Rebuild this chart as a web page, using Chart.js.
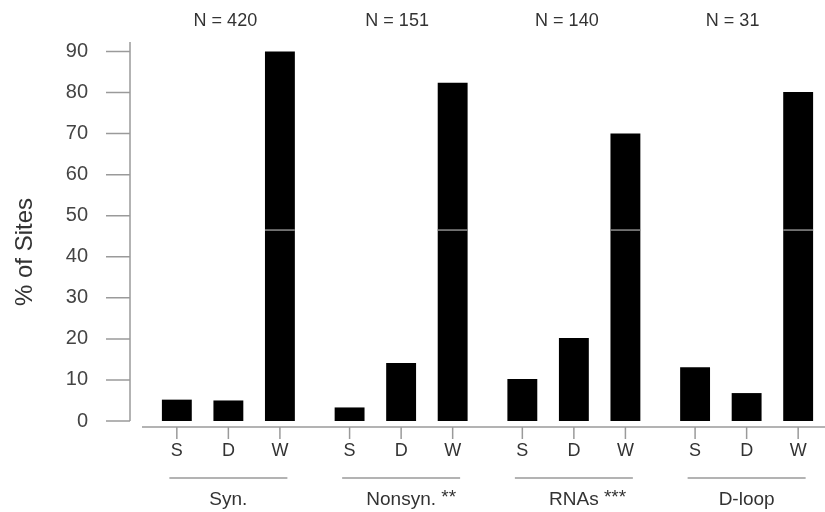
<!DOCTYPE html>
<html>
<head>
<meta charset="utf-8">
<script src="https://cdn.jsdelivr.net/npm/chart.js@4/dist/chart.umd.min.js"></script>
<style>
  html, body { margin: 0; padding: 0; background: #fff; overflow: hidden; }
  #wrap { width: 840px; height: 512px; }
</style>
</head>
<body>
<div id="wrap"><canvas id="myChart"></canvas></div>
<script>
"use strict"

// groups along the x axis
const groups = ['Syn.', 'Nonsyn.', 'RNAs', 'D-loop'];
const groupStars = ['', '**', '***', ''];
const groupN = [420, 151, 140, 31];
// bar classes inside each group
const classes = ['S', 'D', 'W'];
// % of sites per class, one entry per group
const sValues = [5.2, 3.3, 10.2, 13.1];
const dValues = [5.0, 14.1, 20.2, 6.8];
const wValues = [90.0, 82.4, 70.0, 80.1];

const yTitle = '% of Sites';
const yMax = 92.3;
const yStep = 10;

const axisGrey = '#9a9a9a';
const textGrey = '#333';
const fontFamily = '"Liberation Sans", Arial, Helvetica, sans-serif';
const nShift = [-3, -4, -7, -14];

// draws the base-R style axes, class labels, group lines and N labels
const decorations = {
  id: 'decorations',
  afterDatasetsDraw(chart) {
    const ctx = chart.ctx;
    const x = chart.scales.x;
    const y = chart.scales.y;
    const y0 = y.getPixelForValue(0);

    ctx.save();
    ctx.lineWidth = 1.5;

    // grey streak across the tall bars
    const streakY = y.getPixelForValue(46.5);
    ctx.strokeStyle = '#8c8c8c';
    chart.data.datasets.forEach((ds, i) => {
      chart.getDatasetMeta(i).data.forEach((bar, j) => {
        if (ds.data[j] > 46.5) {
          ctx.beginPath();
          ctx.moveTo(bar.x - bar.width / 2, streakY);
          ctx.lineTo(bar.x + bar.width / 2, streakY);
          ctx.stroke();
        }
      });
    });
    ctx.strokeStyle = axisGrey;

    // y axis
    const yAxisX = chart.chartArea.left - 12;
    ctx.beginPath();
    ctx.moveTo(yAxisX, y0);
    ctx.lineTo(yAxisX, y.getPixelForValue(yMax));
    y.ticks.forEach(t => {
      const py = y.getPixelForValue(t.value);
      ctx.moveTo(yAxisX - 24, py);
      ctx.lineTo(yAxisX, py);
    });
    ctx.stroke();

    // x axis
    const xAxisY = y0 + 6;
    ctx.beginPath();
    ctx.moveTo(chart.chartArea.left, xAxisY);
    ctx.lineTo(chart.width, xAxisY);
    ctx.stroke();

    ctx.fillStyle = textGrey;
    ctx.textAlign = 'center';
    ctx.textBaseline = 'middle';
    ctx.font = '18px ' + fontFamily;
    chart.data.datasets.forEach((ds, i) => {
      chart.getDatasetMeta(i).data.forEach(bar => {
        ctx.beginPath();
        ctx.moveTo(bar.x, xAxisY);
        ctx.lineTo(bar.x, xAxisY + 12);
        ctx.stroke();
        ctx.fillText(ds.label, bar.x, xAxisY + 24);
      });
    });

    // group lines, names and N
    groups.forEach((g, j) => {
      const cx = x.getPixelForValue(j);
      ctx.beginPath();
      ctx.moveTo(cx - 59, 478);
      ctx.lineTo(cx + 59, 478);
      ctx.stroke();

      ctx.font = '19px ' + fontFamily;
      ctx.textAlign = 'center';
      ctx.fillText(g, cx, 500);
      if (groupStars[j]) {
        ctx.textAlign = 'left';
        const w = ctx.measureText(g).width;
        ctx.fillText(' ' + groupStars[j], cx + w / 2, 498);
      }

      ctx.font = '18px ' + fontFamily;
      ctx.textAlign = 'center';
      ctx.fillText('N = ' + groupN[j], cx + nShift[j], 21);
    });

    // y title
    ctx.translate(25, 252);
    ctx.rotate(-Math.PI / 2);
    ctx.font = '24px ' + fontFamily;
    ctx.fillText(yTitle, 0, 0);
    ctx.restore();
  }
};

const ctx = document.getElementById('myChart').getContext('2d');
const myChart = new Chart(ctx, {
  type: 'bar',
  data: {
    labels: groups,
    datasets: [
      { label: classes[0], data: sValues },
      { label: classes[1], data: dValues },
      { label: classes[2], data: wValues }
    ].map(ds => Object.assign(ds, {
      backgroundColor: '#000',
      borderWidth: 0,
      categoryPercentage: 0.895,
      barPercentage: 0.58
    }))
  },
  options: {
    responsive: true,
    maintainAspectRatio: false,
    animation: false,
    layout: { padding: { top: 42, right: 7, bottom: 91, left: 0 } },
    plugins: {
      legend: { display: false },
      tooltip: { enabled: false }
    },
    scales: {
      x: { display: false },
      y: {
        min: 0,
        max: yMax,
        grid: { display: false, drawTicks: false },
        border: { display: false },
        ticks: {
          stepSize: yStep,
          includeBounds: false,
          padding: 54,
          color: '#444',
          font: { family: fontFamily, size: 20 }
        },
        afterFit: s => {
          s.width = 142;
          s.paddingTop = 0;
          s.paddingBottom = 0;
        }
      }
    }
  },
  plugins: [decorations]
});
</script>
</body>
</html>
